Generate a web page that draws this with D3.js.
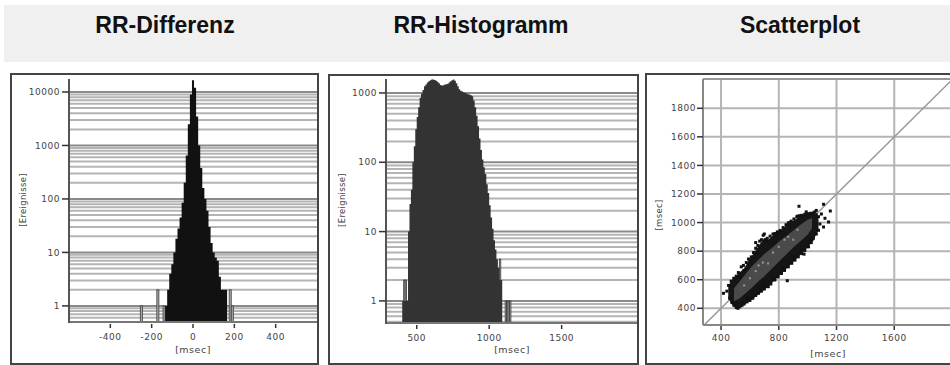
<!DOCTYPE html>
<html><head><meta charset="utf-8">
<script src="https://cdn.jsdelivr.net/npm/d3@7"></script>
<style>body{margin:0;background:#fff}svg{display:block}</style>
</head><body>
<svg id="c" width="950" height="365"></svg>
<script>
// ---------- DATA ----------
const titles = ["RR-Differenz", "RR-Histogramm", "Scatterplot"];
const axisLabelX = "[msec]";
const axisLabelYHist = "[Ereignisse]";
const axisLabelYScatter = "[msec]";

// Panel 1: RR-Differenz histogram (bin centre in msec, count)
const diffBins   = [-130,-120,-110,-100,-90,-80,-70,-60,-50,-40,-30,-20,-10,0,10,20,30,40,50,60,70,80,90,100,110,120,130,140,150,160];
const diffCounts = [1,2,4,6,10,18,28,45,85,200,650,2500,9000,16500,12000,3500,1000,380,160,100,60,30,15,10,8,7,3.5,2,2,2];
const diffOutBins   = [-250,-170,-140,180,190];
const diffOutCounts = [1,2,1,2,1];
const diffTicksX = [-400,-200,0,200,400];
const diffTicksY = [1,10,100,1000,10000];

// Panel 2: RR-Histogramm (bin start in msec, count)
const histBins = [400,410,420,430,440,450,460,470,480,490,500,510,520,530,540,550,560,570,580,590,600,610,620,630,640,650,660,670,680,690,700,710,720,730,740,750,760,770,780,790,800,810,820,830,840,850,860,870,880,890,900,910,920,930,940,950,960,970,980,990,1000,1010,1020,1030,1040,1050,1060,1070,1080];
const histCounts = [1,1,1,1,10,25,40,100,170,300,450,620,850,980,1100,1250,1330,1420,1480,1530,1560,1560,1540,1500,1450,1380,1300,1280,1290,1320,1340,1360,1420,1480,1530,1560,1500,1380,1250,1130,1080,1050,1020,1000,980,960,950,930,900,780,620,470,330,220,150,110,85,68,48,36,24,16,11,7.5,5.5,4,3,2,2];
const histOutBins   = [410,420,1070,1110,1120,1130,1140];
const histOutCounts = [2,2,4,1,1,1,1];
const histTicksX = [500,1000,1500];
const histTicksY = [1,10,100,1000];

// Panel 3: Scatterplot (RR n vs RR n+1, msec)
const bandX    = [450,480,517,560,610,650,680,700,727,773,819,866,912,959,1006,1040,1075];
const bandLow  = [470,420,400,425,458,490,515,530,551,598,644,690,737,783,830,880,946];
const bandHigh = [560,600,640,680,760,820,865,890,880,923,950,993,1020,1051,1062,1065,1041];
const coreX    = [490,530,570,610,650,700,750,800,850,900,950,1000,1030];
const coreLow  = [450,470,505,540,580,625,675,725,775,825,870,915,960];
const coreHigh = [540,590,640,690,730,780,820,865,905,945,985,1020,1030];
const pointsX = [452,470,488,505,520,540,555,575,590,610,625,640,655,668,680,692,705,720,740,760,773,790,810,830,850,866,885,905,925,945,959,980,1000,1020,1040,1060,1075,
                 460,475,490,505,517,530,545,560,580,600,620,640,660,680,700,727,745,773,795,819,840,866,890,912,935,959,980,1006,1025,1040,1060,1075,1085,
                 417,440,940,1110,1157,1110,1145,975,859,1095,1120,1060,640,700,
                 530,560,600,650,720,800,870,930,990,1050,500,545,585,700,760,830,900,960,1030];
const pointsY = [560,590,610,625,650,690,700,720,745,760,790,820,840,870,880,911,880,890,905,920,923,935,945,965,985,993,1010,1025,1040,1048,1051,1058,1062,1065,1068,1055,1041,
                 470,440,420,405,400,410,420,430,445,455,470,490,505,520,535,551,570,598,620,644,665,690,715,737,760,783,805,830,860,890,920,946,990,
                 505,520,1114,1128,1081,969,1004,779,593,1060,1030,1085,860,920,
                 620,665,730,790,870,930,1000,1045,1075,1075,430,440,470,560,610,680,760,810,880];
const lightX = [560,600,640,660,690,726,760,800,840,866,900,930];
const lightY = [560,610,660,700,720,714,790,830,880,900,880,950];
const scatTicksX = [400,800,1200,1600];
const scatTicksY = [400,600,800,1000,1200,1400,1600,1800];

// ---------- DRAW ----------
const svg = d3.select("#c");
const FONT = "'DejaVu Sans', Verdana, sans-serif";
const GRID = "#b4b4b4";

svg.append("rect").attr("x",4).attr("y",5).attr("width",946).attr("height",57).attr("fill","#f0f0f0");
const titleX = [165, 481, 800];
titles.forEach((t,i)=>{
  svg.append("text").attr("x",titleX[i]).attr("y",33).attr("text-anchor","middle")
    .attr("font-family","'Liberation Sans', Arial, sans-serif").attr("font-weight","bold")
    .attr("font-size","23px").attr("fill","#111").text(t);
});

function panelBorder(x0,y0,x1,y1){
  svg.append("rect").attr("x",x0).attr("y",y0).attr("width",x1-x0).attr("height",y1-y0)
    .attr("fill","#fff").attr("stroke","#444").attr("stroke-width",2);
}
function label(g,x,y,txt,opts={}){
  const t = g.append("text").attr("x",x).attr("y",y).attr("font-family",FONT)
    .attr("font-size",opts.size||"9px").attr("fill",opts.fill||"#444")
    .attr("letter-spacing",opts.ls||"0.5px")
    .attr("text-anchor",opts.anchor||"middle").text(txt);
  if(opts.rotate) t.attr("transform",`rotate(-90,${x},${y})`);
  return t;
}

function histPanel(cfg){
  panelBorder(cfg.box[0],cfg.box[1],cfg.box[2],cfg.box[3]);
  const g = svg.append("g");
  const x = d3.scaleLinear().domain(cfg.xDomain).range([cfg.left,cfg.right]);
  const y = d3.scaleLog().domain(cfg.yDomain).range([cfg.bottom,cfg.top]);
  const minor = [];
  for(let n=-1;n<=5;n++) for(let k=1;k<=9;k++){
    const v = k*Math.pow(10,n);
    if(v>=cfg.yDomain[0] && v<=cfg.yDomain[1]) minor.push(v);
  }
  g.selectAll(".mg").data(minor).join("line")
    .attr("x1",cfg.left).attr("x2",cfg.right)
    .attr("y1",d=>y(d)).attr("y2",d=>y(d))
    .attr("stroke",d=>cfg.yTicks.includes(d)?"#8a8a8a":GRID).attr("stroke-width",2);
  g.selectAll(".ob").data(cfg.outBins.map((b,i)=>({b,c:cfg.outCounts[i]}))).join("rect")
    .attr("x",d=>x(d.b+cfg.off[0])).attr("width",d=>Math.max(1,x(d.b+cfg.off[1])-x(d.b+cfg.off[0])))
    .attr("y",d=>y(d.c)).attr("height",d=>cfg.bottom-y(d.c))
    .attr("fill","#a8a8a8").attr("stroke","#3a3a3a").attr("stroke-width",0.8);
  // histogram as a single stepped area
  const pts = cfg.bins.map((b,i)=>({e:b+cfg.off[0], c:cfg.counts[i]}));
  const last = cfg.bins.length-1;
  pts.push({e:cfg.bins[last]+cfg.off[1], c:cfg.counts[last]});
  const area = d3.area().x(d=>x(d.e)).y0(cfg.bottom).y1(d=>y(d.c)).curve(d3.curveStepAfter);
  g.append("path").datum(pts).attr("d",area).attr("fill",cfg.color);
  g.append("line").attr("x1",cfg.left).attr("x2",cfg.right).attr("y1",cfg.bottom).attr("y2",cfg.bottom)
    .attr("stroke","#777").attr("stroke-width",2);
  g.append("line").attr("x1",cfg.left).attr("x2",cfg.left).attr("y1",cfg.top).attr("y2",cfg.bottom+1)
    .attr("stroke","#555").attr("stroke-width",2);
  cfg.yTicks.forEach(v=>{
    g.append("line").attr("x1",cfg.left-7).attr("x2",cfg.left).attr("y1",y(v)).attr("y2",y(v))
      .attr("stroke","#333").attr("stroke-width",1.5);
    label(g,cfg.left-9,y(v)+3.2,String(v),{anchor:"end"});
  });
  cfg.xTicks.forEach(v=>{
    g.append("line").attr("x1",x(v)).attr("x2",x(v)).attr("y1",cfg.bottom+2).attr("y2",cfg.bottom+6)
      .attr("stroke","#333").attr("stroke-width",1.5);
    label(g,x(v),cfg.bottom+18,String(v));
  });
  label(g,cfg.xLabelX,353,axisLabelX,{size:"9.5px"});
  label(g,cfg.yLabelX,200,axisLabelYHist,{rotate:true,size:"8.5px",ls:"0.3px"});
}

histPanel({box:[11,74,318,364], left:69, right:317, top:79, bottom:322,
  xDomain:[-600,600], yDomain:[0.5,17500], bins:diffBins, counts:diffCounts, off:[-5,5],
  outBins:diffOutBins, outCounts:diffOutCounts, color:"#111",
  xTicks:diffTicksX, yTicks:diffTicksY, yLabelX:26, xLabelX:193});

histPanel({box:[329,75,638,364], left:386, right:637, top:79, bottom:323,
  xDomain:[288,2020], yDomain:[0.48,1590], bins:histBins, counts:histCounts, off:[0,10],
  outBins:histOutBins, outCounts:histOutCounts, color:"#333",
  xTicks:histTicksX, yTicks:histTicksY, yLabelX:345, xLabelX:512});

(function(){
  panelBorder(646,74,958,364);
  const L=703, R=952, T=79, B=325;
  const g = svg.append("g");
  const x = d3.scaleLinear().domain([275,2000]).range([L,R]);
  const y = d3.scaleLinear().domain([283,2005]).range([B,T]);
  g.append("defs").append("clipPath").attr("id","clip3").append("rect")
    .attr("x",L).attr("y",T).attr("width",R-L).attr("height",B-T);
  g.selectAll(".gy").data(scatTicksY).join("line").attr("x1",L).attr("x2",R)
    .attr("y1",d=>y(d)).attr("y2",d=>y(d)).attr("stroke",GRID).attr("stroke-width",2);
  g.selectAll(".gx").data(scatTicksX).join("line").attr("y1",T).attr("y2",B)
    .attr("x1",d=>x(d)).attr("x2",d=>x(d)).attr("stroke",GRID).attr("stroke-width",2);
  g.append("line").attr("x1",L).attr("x2",R).attr("y1",T).attr("y2",T).attr("stroke","#999").attr("stroke-width",2);
  const cg = g.append("g").attr("clip-path","url(#clip3)");
  cg.append("line").attr("x1",x(275)).attr("y1",y(275)).attr("x2",x(2000)).attr("y2",y(2000))
    .attr("stroke","#999").attr("stroke-width",1.5);
  const band = bandX.map((v,i)=>({x:v,lo:bandLow[i],hi:bandHigh[i]}));
  const core = coreX.map((v,i)=>({x:v,lo:coreLow[i],hi:coreHigh[i]}));
  const area = d3.area().x(d=>x(d.x)).y0(d=>y(d.lo)).y1(d=>y(d.hi)).curve(d3.curveLinear);
  cg.append("path").datum(band).attr("d",area).attr("fill","#151515");
  cg.append("path").datum(core).attr("d",area).attr("fill","#4a4a4a");
  cg.selectAll(".lp").data(lightX.map((v,i)=>[v,lightY[i]])).join("rect")
    .attr("x",d=>x(d[0])-1).attr("y",d=>y(d[1])-1).attr("width",2).attr("height",2).attr("fill","#9a9a9a");
  cg.selectAll(".p").data(pointsX.map((v,i)=>[v,pointsY[i]])).join("rect")
    .attr("x",d=>x(d[0])-1.5).attr("y",d=>y(d[1])-1.5).attr("width",3).attr("height",3).attr("fill","#111");
  g.append("line").attr("x1",L).attr("x2",R).attr("y1",B).attr("y2",B).attr("stroke","#888").attr("stroke-width",2);
  g.append("line").attr("x1",L).attr("x2",L).attr("y1",T).attr("y2",B).attr("stroke","#888").attr("stroke-width",2);
  scatTicksY.forEach(v=>{
    g.append("line").attr("x1",L-6).attr("x2",L).attr("y1",y(v)).attr("y2",y(v)).attr("stroke","#333").attr("stroke-width",1.5);
    label(g,L-7,y(v)+3.2,String(v),{anchor:"end"});
  });
  scatTicksX.forEach(v=>{
    g.append("line").attr("x1",x(v)).attr("x2",x(v)).attr("y1",B+1).attr("y2",B+5).attr("stroke","#333").attr("stroke-width",1.5);
    label(g,x(v),B+16,String(v));
  });
  label(g,828,357,axisLabelX,{size:"9.5px"});
  label(g,662,215,axisLabelYScatter,{rotate:true,size:"8.5px",ls:"0.3px"});
})();
</script>
</body></html>
